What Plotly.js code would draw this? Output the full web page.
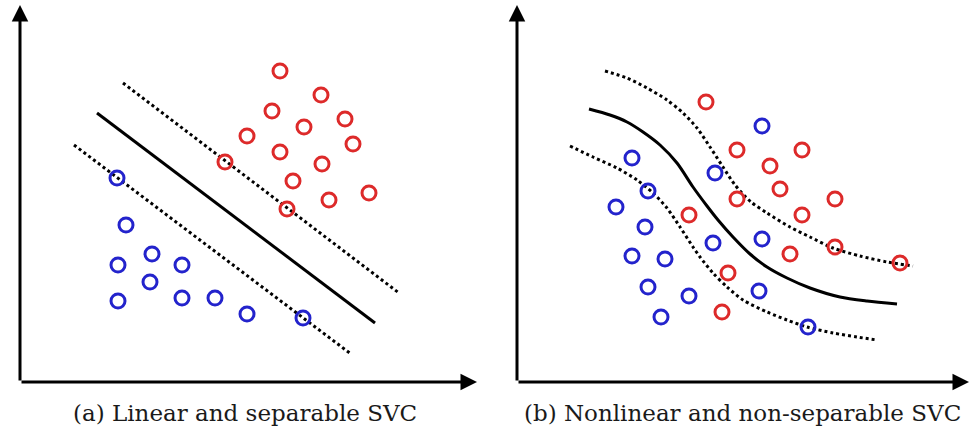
<!DOCTYPE html>
<html>
<head>
<meta charset="utf-8">
<script src="https://cdn.plot.ly/plotly-3.0.1.min.js"></script>
<style>html,body{margin:0;padding:0;background:#fff;}#chart{width:969px;height:434px;}</style>
</head>
<body>
<div id="chart"></div>
<script>
// Panel (a): linear and separable SVC (units: origin at axis corner, x right, y up)
const aRedX = [260, 301, 252, 325, 284, 227, 333, 260, 205, 302, 273, 349, 309, 267];
const aRedY = [311, 287, 271, 263, 255, 246, 238, 230, 220, 218, 201, 189, 182, 173];
const aBlueX = [97, 106, 132, 98, 162, 130, 98, 162, 195, 227, 283];
const aBlueY = [204, 157, 128, 117, 117, 100, 81, 84, 84, 68, 64];
const aSolidX = [77, 355];
const aSolidY = [269, 59];
const aUpperX = [103, 379];
const aUpperY = [299, 89];
const aLowerX = [54, 331];
const aLowerY = [237, 28];

// Panel (b): nonlinear and non-separable SVC
const bRedX = [189, 220, 285, 253, 263, 220, 318, 285, 172, 318, 273, 211, 383, 205];
const bRedY = [280, 232, 232, 216, 193, 183, 183, 167, 167, 135, 128, 109, 119, 70];
const bBlueX = [245, 115, 198, 131, 99, 128, 196, 245, 115, 148, 131, 172, 242, 144, 291];
const bBlueY = [256, 224, 209, 191, 175, 155, 139, 143, 126, 123, 95, 86, 91, 65, 55];
const bSolidX = [72, 93, 110, 126, 143, 160, 176, 190, 201, 216, 233, 250, 270, 293, 323, 350, 380];
const bSolidY = [273, 267, 260, 250, 237, 219, 195, 176, 162, 145, 128, 115, 104, 94, 85, 81, 78];
const bUpperX = [88, 110, 130, 150, 166, 180, 193, 206, 218, 234, 250, 273, 293, 316, 343, 370, 396];
const bUpperY = [311, 304, 294, 282, 269, 254, 235, 215, 197, 180, 169, 155, 145, 134, 126, 120, 116];
const bLowerX = [53, 76, 100, 120, 136, 150, 163, 176, 183, 196, 210, 226, 250, 270, 290, 316, 340, 360];
const bLowerY = [236, 225, 214, 202, 189, 174, 155, 135, 125, 109, 95, 82, 70, 62, 55, 49, 45, 42];

const captions = ["(a) Linear and separable SVC", "(b) Nonlinear and non-separable SVC"];
const axisLenX = [457, 452];
const axisLenY = [377, 377];

const RED = '#dd2a2a';
const BLUE = '#2323cc';

function line(x, y, xa, ya, dash, shape) {
  return {x: x, y: y, xaxis: xa, yaxis: ya, mode: 'lines', type: 'scatter',
    line: {color: '#000', width: 3, dash: dash, shape: shape || 'linear', smoothing: 0.8},
    hoverinfo: 'skip', showlegend: false};
}
function pts(x, y, xa, ya, c) {
  return {x: x, y: y, xaxis: xa, yaxis: ya, mode: 'markers', type: 'scatter',
    marker: {symbol: 'circle-open', size: 14, color: c, line: {width: 3, color: c}},
    hoverinfo: 'skip', showlegend: false};
}

const data = [
  line(aSolidX, aSolidY, 'x', 'y', 'solid'),
  line(aUpperX, aUpperY, 'x', 'y', 'dot'),
  line(aLowerX, aLowerY, 'x', 'y', 'dot'),
  pts(aRedX, aRedY, 'x', 'y', RED),
  pts(aBlueX, aBlueY, 'x', 'y', BLUE),
  line(bSolidX, bSolidY, 'x2', 'y2', 'solid', 'spline'),
  line(bUpperX, bUpperY, 'x2', 'y2', 'dot', 'spline'),
  line(bLowerX, bLowerY, 'x2', 'y2', 'dot', 'spline'),
  pts(bRedX, bRedY, 'x2', 'y2', RED),
  pts(bBlueX, bBlueY, 'x2', 'y2', BLUE)
];

const hidden = {visible: false, showgrid: false, zeroline: false, fixedrange: true};
function arrow(xref, yref, x, y) {
  return {xref: xref, yref: yref, axref: xref, ayref: yref, x: x, y: y, ax: 0, ay: 0,
    showarrow: true, arrowhead: 2, arrowsize: 1.1, arrowwidth: 3, arrowcolor: '#000', text: ''};
}
const capFont = {family: 'DejaVu Serif', size: 23, color: '#1a1a1a'};
const annotations = [
  arrow('x', 'y', axisLenX[0], 0),
  arrow('x', 'y', 0, axisLenY[0]),
  arrow('x2', 'y2', axisLenX[1], 0),
  arrow('x2', 'y2', 0, axisLenY[1]),
  {xref: 'paper', yref: 'paper', x: 244.5 / 969, y: (434 - 413) / 434, xanchor: 'center', yanchor: 'middle',
   showarrow: false, text: captions[0], font: capFont},
  {xref: 'paper', yref: 'paper', x: 742 / 969, y: (434 - 413) / 434, xanchor: 'center', yanchor: 'middle',
   showarrow: false, text: captions[1], font: capFont}
];

const layout = {
  width: 969, height: 434,
  margin: {l: 0, r: 0, t: 0, b: 0},
  paper_bgcolor: '#fff', plot_bgcolor: '#fff',
  showlegend: false,
  xaxis: Object.assign({domain: [0, 0.5], range: [-20, 464.5]}, hidden),
  yaxis: Object.assign({domain: [0, 1], range: [-52, 382]}, hidden),
  xaxis2: Object.assign({domain: [0.5, 1], range: [-32.5, 452], anchor: 'y2'}, hidden),
  yaxis2: Object.assign({domain: [0, 1], range: [-52, 382], anchor: 'x2'}, hidden),
  annotations: annotations
};

Plotly.newPlot('chart', data, layout, {displayModeBar: false, staticPlot: true});
</script>
</body>
</html>
